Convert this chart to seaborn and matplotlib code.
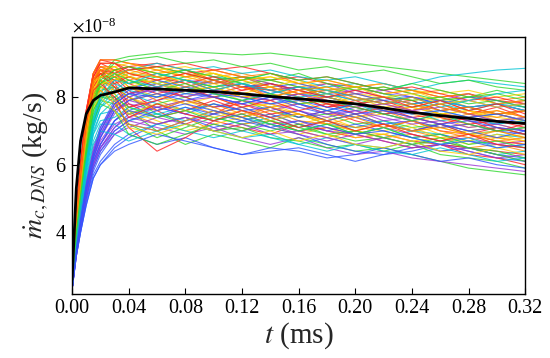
import numpy as np
import pandas as pd
import matplotlib
matplotlib.use("Agg")
import matplotlib.pyplot as plt
from matplotlib.ticker import ScalarFormatter, MultipleLocator, FormatStrFormatter
import seaborn as sns

# time samples (ms)
t_ms = [0, 0.003, 0.006, 0.01, 0.015, 0.02, 0.03, 0.04, 0.06, 0.08, 0.10, 0.12,
        0.14, 0.16, 0.18, 0.20, 0.22, 0.24, 0.26, 0.28, 0.30, 0.32]

# mass flow rate per DNS run, in units of 1e-8 kg/s
red_runs = [
    [2.6, 4.7, 6.0, 7.6, 8.7, 9.1, 9.1, 9.0, 8.9, 8.7, 8.8, 8.6, 8.5, 8.6, 8.4, 8.3, 8.4, 8.2, 8.0, 8.1, 7.9, 7.8],
    [2.5, 4.6, 5.9, 7.5, 8.5, 8.8, 8.6, 8.2, 7.6, 7.2, 7.5, 7.9, 7.7, 7.4, 7.6, 7.3, 7.1, 7.3, 7.0, 6.9, 7.1, 6.9],
    [2.5, 4.6, 5.9, 7.4, 8.4, 8.5, 7.9, 7.1, 6.4, 6.8, 7.3, 7.1, 6.9, 7.2, 7.0, 6.8, 6.9, 6.7, 6.6, 6.5, 6.4, 6.3],
    [2.6, 4.7, 6.0, 7.6, 8.7, 9.0, 8.8, 8.9, 9.0, 8.8, 8.5, 8.3, 8.4, 8.1, 8.2, 8.0, 7.8, 7.9, 7.6, 7.7, 7.5, 7.6],
    [2.5, 4.5, 5.8, 7.3, 8.4, 8.7, 8.5, 8.1, 8.3, 8.0, 7.7, 7.8, 7.5, 7.6, 7.3, 7.5, 7.2, 7.0, 7.2, 6.9, 6.7, 6.6],
    [2.6, 4.6, 5.9, 7.5, 8.6, 8.9, 8.7, 8.4, 8.1, 8.3, 8.0, 8.2, 8.3, 8.0, 7.7, 7.8, 7.9, 7.6, 7.8, 7.5, 7.7, 7.4],
    [2.5, 4.5, 5.7, 7.2, 8.3, 8.6, 8.4, 7.8, 7.4, 7.6, 7.9, 7.6, 7.3, 7.0, 7.1, 6.9, 6.7, 6.5, 6.6, 6.3, 6.2, 6.0],
    [2.6, 4.7, 6.0, 7.6, 8.7, 9.1, 9.0, 8.8, 8.9, 9.0, 8.8, 8.9, 8.7, 8.5, 8.6, 8.4, 8.2, 8.3, 8.1, 7.9, 8.0, 7.8],
    [2.5, 4.6, 5.9, 7.4, 8.5, 8.8, 8.4, 8.6, 8.3, 8.5, 8.2, 8.0, 7.9, 8.1, 7.8, 7.7, 7.5, 7.6, 7.4, 7.2, 7.3, 7.1],
    [2.5, 4.5, 5.8, 7.4, 8.5, 8.8, 8.7, 8.9, 8.6, 8.4, 8.6, 8.3, 8.2, 8.0, 7.7, 7.9, 7.6, 7.4, 7.5, 7.3, 7.0, 7.2],
    [2.6, 4.6, 5.9, 7.5, 8.5, 8.7, 8.3, 7.7, 7.9, 8.2, 8.0, 7.7, 7.9, 7.6, 7.8, 7.5, 7.7, 7.4, 7.2, 7.4, 7.1, 6.9],
    [2.5, 4.6, 5.9, 7.5, 8.6, 9.0, 9.0, 8.7, 8.5, 8.7, 8.5, 8.2, 8.4, 8.2, 8.0, 8.2, 8.0, 7.7, 7.9, 7.6, 7.8, 7.5],
    [2.5, 4.5, 5.7, 7.2, 8.2, 8.4, 8.0, 7.4, 7.8, 7.5, 7.3, 7.6, 7.4, 7.1, 7.3, 7.0, 7.2, 6.9, 6.7, 6.9, 6.6, 6.5],
]
orange_runs = [
    [2.6, 4.5, 5.8, 7.4, 8.6, 9.0, 9.0, 8.9, 8.7, 8.8, 8.6, 8.7, 8.5, 8.3, 8.4, 8.2, 8.3, 8.1, 8.2, 8.0, 7.9, 8.0],
    [2.5, 4.4, 5.6, 7.1, 8.3, 8.7, 8.7, 8.3, 7.9, 7.6, 7.8, 7.5, 7.7, 7.8, 7.5, 7.4, 7.6, 7.3, 7.1, 7.2, 7.0, 7.1],
    [2.5, 4.4, 5.7, 7.2, 8.4, 8.7, 8.5, 8.6, 8.4, 8.1, 8.2, 8.4, 8.0, 7.8, 7.9, 7.6, 7.7, 7.5, 7.3, 7.5, 7.3, 7.2],
    [2.5, 4.3, 5.5, 7.0, 8.1, 8.3, 8.0, 7.5, 7.2, 7.4, 7.0, 7.2, 7.3, 7.0, 6.8, 7.0, 6.8, 6.9, 6.7, 6.5, 6.6, 6.4],
    [2.6, 4.5, 5.8, 7.3, 8.5, 8.9, 8.9, 8.6, 8.8, 8.6, 8.4, 8.5, 8.2, 8.3, 8.0, 8.1, 7.9, 7.7, 7.9, 7.6, 7.5, 7.3],
    [2.5, 4.4, 5.6, 7.1, 8.2, 8.5, 8.2, 7.9, 8.1, 7.8, 7.5, 7.7, 7.4, 7.5, 7.2, 7.0, 7.2, 7.0, 6.8, 6.9, 6.8, 6.7],
    [2.5, 4.3, 5.5, 7.0, 8.2, 8.6, 8.6, 8.4, 8.5, 8.2, 8.3, 8.0, 8.1, 7.9, 8.0, 7.8, 7.6, 7.7, 7.5, 7.4, 7.6, 7.4],
    [2.6, 4.6, 5.9, 7.5, 8.7, 9.1, 9.1, 9.0, 8.8, 8.6, 8.8, 8.6, 8.7, 8.4, 8.5, 8.3, 8.1, 8.2, 8.0, 8.1, 7.8, 7.9],
    [2.5, 4.4, 5.7, 7.2, 8.4, 8.8, 8.8, 8.5, 8.7, 8.4, 8.1, 8.3, 8.0, 8.2, 7.9, 7.7, 7.8, 7.6, 7.8, 7.5, 7.4, 7.6],
    [2.5, 4.3, 5.5, 7.0, 8.1, 8.5, 8.3, 8.0, 7.6, 7.9, 7.7, 7.4, 7.6, 7.3, 7.2, 7.4, 7.1, 7.3, 7.0, 6.8, 7.0, 6.8],
    [2.5, 4.5, 5.7, 7.3, 8.5, 8.9, 8.8, 8.7, 8.5, 8.7, 8.4, 8.6, 8.3, 8.1, 8.2, 7.9, 8.0, 7.8, 7.6, 7.7, 7.5, 7.6],
    [2.5, 4.3, 5.4, 6.9, 8.0, 8.2, 7.8, 7.2, 7.0, 7.3, 7.6, 7.4, 7.7, 7.5, 7.3, 7.1, 7.2, 7.0, 7.1, 6.9, 6.7, 6.8],
    [2.6, 4.5, 5.8, 7.3, 8.5, 8.8, 8.6, 8.8, 8.6, 8.3, 8.5, 8.3, 8.0, 8.2, 8.3, 8.0, 7.8, 8.0, 7.7, 7.5, 7.6, 7.4],
]
yellow_runs = [
    [2.5, 4.3, 5.5, 7.0, 8.2, 8.7, 8.8, 8.9, 8.7, 8.8, 8.5, 8.6, 8.4, 8.2, 8.3, 8.1, 8.0, 7.9, 8.0, 7.7, 7.8, 7.6],
    [2.5, 4.2, 5.3, 6.8, 8.0, 8.5, 8.3, 8.0, 7.7, 7.9, 7.6, 7.3, 7.5, 7.2, 7.4, 7.1, 7.0, 7.2, 6.9, 7.0, 6.8, 6.9],
    [2.5, 4.2, 5.4, 6.9, 8.0, 8.4, 8.4, 8.5, 8.2, 8.0, 8.2, 7.9, 7.7, 7.9, 7.6, 7.4, 7.5, 7.3, 7.4, 7.1, 7.2, 7.0],
    [2.4, 4.1, 5.2, 6.7, 7.9, 8.3, 8.1, 7.6, 7.3, 7.0, 7.2, 7.4, 7.1, 6.9, 7.1, 6.8, 6.9, 6.7, 6.8, 6.6, 6.8, 6.6],
    [2.5, 4.3, 5.6, 7.1, 8.3, 8.8, 8.9, 8.7, 8.9, 8.6, 8.7, 8.5, 8.6, 8.4, 8.2, 8.3, 8.1, 8.2, 7.9, 8.0, 7.8, 7.9],
    [2.5, 4.2, 5.3, 6.8, 7.9, 8.3, 8.2, 8.3, 8.0, 7.8, 8.0, 7.7, 7.8, 7.5, 7.3, 7.5, 7.2, 7.0, 7.1, 6.9, 7.0, 6.8],
    [2.5, 4.4, 5.6, 7.2, 8.4, 8.8, 8.9, 9.0, 8.8, 8.9, 8.7, 8.5, 8.6, 8.4, 8.5, 8.3, 8.4, 8.2, 8.1, 8.2, 8.0, 8.1],
    [2.5, 4.2, 5.4, 6.9, 8.1, 8.6, 8.6, 8.3, 8.5, 8.2, 8.4, 8.1, 8.3, 8.0, 7.8, 8.0, 7.7, 7.8, 7.5, 7.6, 7.4, 7.3],
    [2.4, 4.1, 5.2, 6.7, 7.8, 8.2, 7.9, 7.5, 7.8, 7.6, 7.4, 7.6, 7.3, 7.5, 7.2, 7.0, 6.9, 7.1, 6.8, 6.7, 6.9, 6.7],
    [2.5, 4.3, 5.5, 7.0, 8.2, 8.6, 8.7, 8.6, 8.4, 8.2, 8.3, 8.0, 8.1, 7.9, 8.1, 7.8, 7.6, 7.7, 7.5, 7.6, 7.3, 7.4],
    [2.5, 4.2, 5.3, 6.8, 8.0, 8.4, 8.5, 8.7, 8.6, 8.5, 8.7, 8.5, 8.3, 8.5, 8.2, 8.3, 8.0, 8.1, 7.8, 7.9, 7.7, 7.8],
    [2.4, 4.0, 5.1, 6.6, 7.7, 8.0, 7.6, 7.1, 6.9, 7.2, 7.0, 6.8, 7.0, 6.7, 6.9, 6.6, 6.5, 6.7, 6.4, 6.3, 6.5, 6.3],
]
green_runs = [
    [2.5, 4.1, 5.2, 6.6, 7.9, 8.6, 9.1, 9.2, 9.3, 9.35, 9.3, 9.25, 9.3, 9.2, 9.1, 9.0, 8.9, 8.8, 8.7, 8.6, 8.5, 8.4],
    [2.4, 3.9, 5.0, 6.4, 7.6, 8.1, 8.1, 7.6, 7.0, 6.6, 6.9, 6.7, 6.5, 6.8, 6.6, 6.4, 6.5, 6.3, 6.1, 5.9, 5.8, 5.7],
    [2.5, 4.0, 5.1, 6.5, 7.8, 8.4, 8.8, 8.6, 8.4, 8.6, 8.7, 8.4, 8.2, 8.3, 8.0, 7.8, 8.0, 7.9, 7.6, 7.7, 7.5, 7.6],
    [2.4, 3.9, 4.9, 6.3, 7.5, 8.0, 7.9, 7.5, 7.8, 8.0, 7.7, 7.9, 7.6, 7.4, 7.5, 7.2, 7.3, 7.1, 7.2, 7.0, 7.1, 6.9],
    [2.4, 3.9, 5.0, 6.4, 7.7, 8.2, 8.3, 8.0, 7.5, 7.2, 7.0, 7.1, 6.8, 6.7, 6.5, 6.6, 6.4, 6.6, 6.3, 6.2, 6.1, 5.9],
    [2.5, 4.1, 5.2, 6.6, 7.9, 8.4, 8.6, 8.8, 8.9, 8.7, 8.5, 8.6, 8.5, 8.7, 8.4, 8.2, 8.3, 8.1, 7.9, 8.0, 8.2, 8.0],
    [2.4, 3.8, 4.8, 6.2, 7.4, 7.9, 7.8, 7.2, 6.8, 7.1, 7.4, 7.2, 7.0, 7.2, 6.9, 6.7, 6.8, 6.6, 6.7, 6.5, 6.4, 6.2],
    [2.5, 4.1, 5.3, 6.7, 8.0, 8.6, 9.0, 9.1, 9.2, 9.0, 9.1, 8.9, 9.0, 8.8, 8.9, 8.7, 8.8, 8.6, 8.4, 8.5, 8.3, 8.2],
    [2.4, 4.0, 5.1, 6.5, 7.8, 8.3, 8.6, 8.4, 8.6, 8.8, 8.6, 8.4, 8.5, 8.3, 8.1, 8.3, 8.1, 7.9, 8.0, 7.8, 7.9, 7.7],
    [2.4, 3.8, 4.8, 6.2, 7.3, 7.8, 7.6, 6.9, 6.6, 6.9, 7.2, 7.0, 7.3, 7.1, 6.9, 7.0, 6.8, 6.6, 6.8, 6.5, 6.3, 6.1],
    [2.5, 4.0, 5.2, 6.6, 7.9, 8.5, 8.8, 8.9, 8.7, 8.5, 8.3, 8.5, 8.7, 8.5, 8.6, 8.4, 8.2, 8.4, 8.2, 8.0, 8.1, 7.9],
    [2.4, 3.9, 5.0, 6.4, 7.6, 8.0, 8.0, 7.7, 7.4, 7.6, 7.3, 7.5, 7.2, 7.0, 7.2, 6.9, 7.1, 6.8, 6.9, 6.6, 6.7, 6.5],
    [2.4, 4.0, 5.1, 6.5, 7.8, 8.4, 8.7, 8.5, 8.2, 8.4, 8.1, 7.9, 8.1, 7.8, 7.9, 7.7, 7.5, 7.3, 7.5, 7.2, 7.0, 7.1],
]
cyan_runs = [
    [2.4, 3.8, 4.8, 6.1, 7.2, 7.9, 8.5, 8.7, 8.6, 8.8, 8.6, 8.5, 8.7, 8.5, 8.3, 8.4, 8.2, 8.4, 8.6, 8.7, 8.8, 8.85],
    [2.4, 3.7, 4.7, 5.9, 7.0, 7.5, 7.6, 7.3, 7.5, 7.7, 7.4, 7.2, 7.4, 7.1, 7.3, 7.0, 6.8, 7.0, 6.9, 6.7, 6.9, 6.8],
    [2.4, 3.8, 4.8, 6.0, 7.2, 7.8, 8.3, 8.1, 8.3, 8.1, 8.3, 8.0, 7.8, 8.0, 7.8, 7.6, 7.7, 7.5, 7.6, 7.4, 7.5, 7.3],
    [2.3, 3.7, 4.6, 5.8, 6.9, 7.5, 7.9, 8.1, 7.8, 7.6, 7.8, 7.6, 7.3, 7.5, 7.2, 7.1, 7.3, 7.0, 7.2, 6.9, 7.0, 7.1],
    [2.4, 3.8, 4.8, 6.0, 7.1, 7.7, 8.0, 8.3, 8.4, 8.2, 8.0, 8.1, 7.9, 8.1, 8.0, 7.8, 7.9, 7.7, 7.8, 7.6, 7.8, 7.7],
    [2.3, 3.6, 4.5, 5.7, 6.7, 7.2, 7.2, 6.9, 7.2, 7.0, 6.8, 7.0, 6.8, 6.6, 6.8, 6.6, 6.5, 6.7, 6.4, 6.5, 6.3, 6.4],
    [2.4, 3.9, 4.9, 6.2, 7.4, 8.1, 8.7, 8.8, 9.0, 8.8, 8.9, 8.7, 8.8, 8.6, 8.5, 8.6, 8.4, 8.2, 8.4, 8.5, 8.4, 8.3],
    [2.4, 3.8, 4.8, 6.1, 7.2, 7.9, 8.4, 8.2, 8.0, 8.3, 8.1, 7.9, 8.1, 7.8, 7.6, 7.8, 7.5, 7.6, 7.3, 7.4, 7.2, 7.3],
    [2.3, 3.7, 4.6, 5.8, 6.9, 7.3, 7.4, 7.7, 7.5, 7.3, 7.6, 7.4, 7.2, 7.0, 7.2, 6.9, 7.1, 6.8, 6.6, 6.8, 6.5, 6.6],
    [2.4, 3.8, 4.8, 6.0, 7.1, 7.7, 8.2, 8.5, 8.3, 8.5, 8.3, 8.4, 8.2, 8.0, 8.1, 7.9, 8.0, 7.8, 7.9, 7.7, 7.8, 7.6],
    [2.3, 3.6, 4.5, 5.6, 6.6, 7.0, 6.9, 6.7, 7.0, 7.2, 7.0, 6.8, 6.9, 6.6, 6.4, 6.6, 6.4, 6.3, 6.5, 6.3, 6.1, 6.2],
    [2.4, 3.8, 4.9, 6.1, 7.3, 8.0, 8.5, 8.4, 8.7, 8.5, 8.2, 8.4, 8.1, 8.3, 8.2, 8.0, 7.8, 8.0, 7.7, 7.9, 8.1, 8.2],
]
blue_runs = [
    [2.3, 3.5, 4.3, 5.3, 6.2, 6.8, 7.6, 7.9, 8.2, 8.0, 8.2, 8.4, 8.1, 8.3, 8.1, 7.9, 8.0, 7.8, 7.9, 7.7, 7.8, 7.6],
    [2.3, 3.3, 4.0, 4.9, 5.7, 6.1, 6.6, 6.9, 6.6, 6.8, 6.5, 6.3, 6.4, 6.5, 6.3, 6.1, 6.3, 6.4, 6.6, 6.5, 6.3, 6.2],
    [2.3, 3.4, 4.2, 5.2, 6.1, 6.6, 7.3, 7.6, 7.9, 8.1, 8.0, 7.8, 8.0, 7.7, 7.5, 7.7, 7.5, 7.3, 7.5, 7.3, 7.2, 7.4],
    [2.3, 3.3, 4.0, 4.8, 5.6, 6.0, 6.5, 6.8, 7.2, 7.4, 7.1, 7.3, 7.5, 7.2, 7.0, 7.2, 7.0, 6.8, 6.9, 6.7, 6.6, 6.5],
    [2.3, 3.5, 4.4, 5.4, 6.3, 6.9, 7.7, 8.0, 8.3, 8.5, 8.4, 8.6, 8.3, 8.4, 8.2, 8.3, 8.1, 8.0, 7.8, 8.0, 7.9, 7.7],
    [2.3, 3.3, 4.1, 5.0, 5.8, 6.3, 6.9, 7.2, 7.0, 7.3, 7.5, 7.3, 7.1, 6.9, 6.6, 6.4, 6.3, 6.5, 6.6, 6.4, 6.2, 6.1],
    [2.3, 3.4, 4.2, 5.1, 6.0, 6.5, 7.1, 7.5, 7.7, 7.5, 7.8, 7.6, 7.7, 7.4, 7.6, 7.4, 7.2, 7.3, 7.1, 7.2, 7.0, 6.9],
    [2.3, 3.5, 4.4, 5.5, 6.4, 7.1, 7.9, 8.2, 8.5, 8.3, 8.5, 8.3, 8.4, 8.2, 8.0, 8.1, 7.9, 8.0, 7.8, 7.9, 7.7, 7.8],
    [2.3, 3.4, 4.2, 5.2, 6.1, 6.6, 7.3, 7.6, 7.4, 7.7, 7.5, 7.7, 7.4, 7.6, 7.3, 7.5, 7.2, 7.0, 7.2, 7.0, 6.8, 7.0],
    [2.3, 3.3, 4.0, 4.8, 5.6, 6.0, 6.4, 6.6, 6.9, 6.7, 6.5, 6.3, 6.5, 6.4, 6.2, 6.3, 6.5, 6.3, 6.1, 6.2, 6.0, 5.9],
    [2.3, 3.5, 4.3, 5.3, 6.2, 6.8, 7.6, 7.9, 8.1, 7.9, 8.1, 8.0, 7.8, 7.9, 7.7, 7.5, 7.6, 7.4, 7.2, 7.3, 7.1, 7.0],
    [2.3, 3.4, 4.1, 5.0, 5.9, 6.4, 7.0, 7.3, 7.6, 7.8, 7.6, 7.4, 7.1, 7.3, 7.1, 6.9, 7.0, 6.8, 6.6, 6.7, 6.5, 6.6],
    [2.3, 3.5, 4.4, 5.4, 6.3, 7.0, 7.8, 8.1, 8.0, 8.2, 8.0, 7.8, 8.0, 7.8, 7.6, 7.8, 7.6, 7.5, 7.6, 7.4, 7.5, 7.3],
]
purple_runs = [
    [2.3, 3.5, 4.3, 5.3, 6.2, 6.7, 7.3, 7.7, 8.0, 8.3, 8.1, 8.3, 8.1, 7.9, 8.0, 7.8, 7.6, 7.8, 7.5, 7.4, 7.5, 7.3],
    [2.3, 3.4, 4.2, 5.1, 6.0, 6.5, 7.0, 7.3, 7.1, 6.9, 7.1, 6.8, 6.6, 6.8, 6.5, 6.3, 6.4, 6.2, 6.1, 6.0, 5.9, 5.8],
    [2.3, 3.6, 4.5, 5.5, 6.5, 7.1, 7.8, 8.1, 8.4, 8.2, 8.5, 8.6, 8.4, 8.2, 8.4, 8.1, 8.2, 8.0, 7.9, 8.1, 7.8, 7.9],
    [2.3, 3.4, 4.2, 5.2, 6.1, 6.6, 7.2, 7.4, 7.7, 7.5, 7.3, 7.5, 7.2, 7.3, 7.0, 6.9, 7.1, 6.9, 6.7, 6.8, 6.6, 6.7],
    [2.3, 3.5, 4.4, 5.4, 6.3, 6.9, 7.6, 7.8, 7.6, 7.9, 7.7, 7.9, 7.8, 7.6, 7.4, 7.6, 7.3, 7.4, 7.2, 7.0, 7.1, 7.0],
    [2.3, 3.5, 4.4, 5.4, 6.3, 7.0, 7.7, 8.0, 8.3, 8.5, 8.3, 8.4, 8.2, 8.3, 8.1, 8.2, 8.0, 7.8, 7.9, 7.7, 7.8, 7.6],
    [2.3, 3.4, 4.2, 5.1, 6.0, 6.5, 7.1, 7.4, 7.2, 7.4, 7.2, 7.0, 7.2, 6.9, 6.7, 6.9, 6.7, 6.5, 6.6, 6.4, 6.2, 6.3],
    [2.3, 3.5, 4.3, 5.3, 6.2, 6.8, 7.5, 7.9, 7.7, 7.9, 8.0, 7.8, 7.6, 7.8, 7.5, 7.6, 7.4, 7.2, 7.3, 7.1, 7.2, 7.0],
    [2.3, 3.3, 4.1, 5.0, 5.9, 6.4, 6.9, 7.1, 7.4, 7.2, 7.0, 7.2, 6.9, 7.0, 6.8, 6.6, 6.8, 6.6, 6.4, 6.5, 6.3, 6.1],
    [2.3, 3.6, 4.5, 5.5, 6.4, 7.0, 7.8, 8.1, 8.2, 8.0, 8.2, 8.1, 7.9, 8.1, 7.9, 7.7, 7.8, 7.6, 7.7, 7.5, 7.3, 7.4],
]

# ensemble mean, in units of 1e-8 kg/s
mean_rate = [2.6, 5.3, 6.7, 7.5, 7.9, 8.05, 8.15, 8.27, 8.24, 8.2, 8.16, 8.1, 8.02, 7.95,
             7.88, 7.8, 7.68, 7.55, 7.45, 7.37, 7.28, 7.22]

groups = [
    ("#ff1f1f", red_runs),
    ("#ff8a00", orange_runs),
    ("#ffd000", yellow_runs),
    ("#2ed82e", green_runs),
    ("#00c4d4", cyan_runs),
    ("#2f55ff", blue_runs),
    ("#9b35d6", purple_runs),
]

rows = []
palette = {}
order = []
max_len = max(len(g[1]) for g in groups)
for i in range(max_len):
    for color, runs in groups:
        if i < len(runs):
            name = f"{color}_{i}"
            palette[name] = color
            order.append(name)
            for t, v in zip(t_ms, runs[i]):
                rows.append((name, t, v * 1e-8))
df = pd.DataFrame(rows, columns=["run", "t", "mdot"])
mean_df = pd.DataFrame({"t": t_ms, "mdot": np.array(mean_rate) * 1e-8})

sns.set_style("white")
plt.rcParams["font.family"] = ["Liberation Serif", "DejaVu Serif"]
plt.rcParams["mathtext.fontset"] = "stix"

fig = plt.figure(figsize=(5.5, 3.58), dpi=100)
ax = fig.add_axes([0.131, 0.179, 0.824, 0.718])

sns.lineplot(data=df, x="t", y="mdot", hue="run", hue_order=order, palette=palette,
             units="run", estimator=None, legend=False, lw=0.8, alpha=0.8, ax=ax)
sns.lineplot(data=mean_df, x="t", y="mdot", color="black", lw=2.0, ax=ax)

ax.set_xlim(0, 0.32)
ax.set_ylim(2.18e-8, 9.78e-8)
ax.xaxis.set_major_locator(MultipleLocator(0.04))
ax.yaxis.set_major_locator(MultipleLocator(2e-8))
ax.xaxis.set_major_formatter(FormatStrFormatter("%.2f"))
fmt = ScalarFormatter(useMathText=True)
fmt.set_powerlimits((0, 0))
ax.yaxis.set_major_formatter(fmt)
ax.yaxis.get_offset_text().set_fontsize(13)

ax.tick_params(direction="in", length=4, width=0.8, labelsize=14.5, colors="black",
               bottom=True, left=True, pad=4)
for s in ax.spines.values():
    s.set_color("black")
    s.set_linewidth(1.0)

ax.set_xlabel(r"$t$ (ms)", fontsize=21, labelpad=1)
ax.set_ylabel(r"$\dot{m}_{c,DNS}$ (kg/s)", fontsize=20, labelpad=3)

fig.savefig("out.png", dpi=100)
